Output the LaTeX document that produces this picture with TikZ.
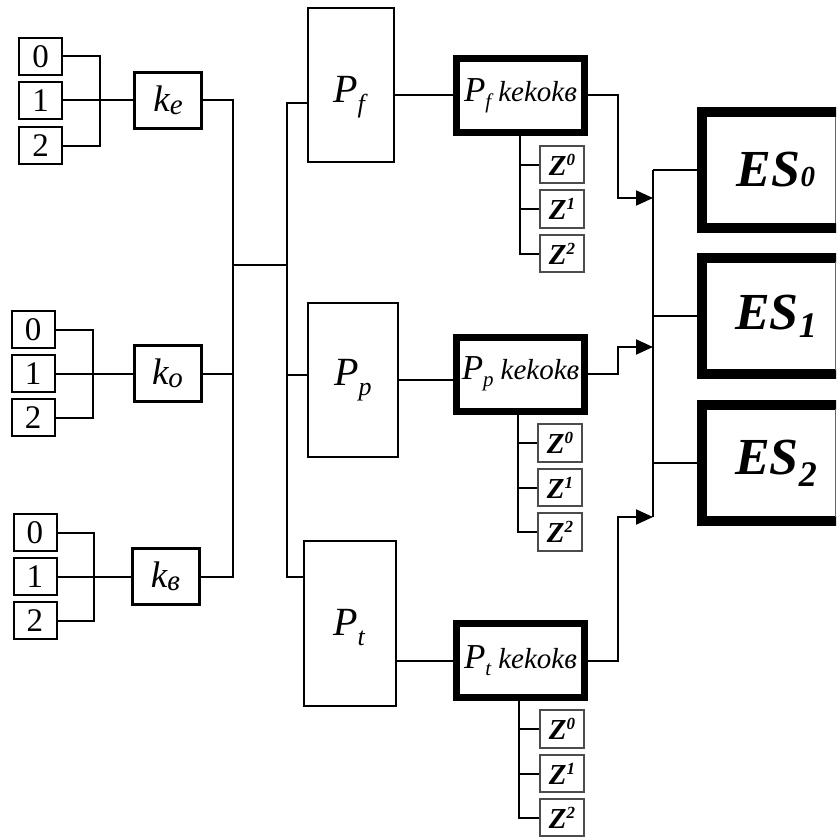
\documentclass[tikz,border=0pt]{standalone}
\usepackage{fontspec}
\setmainfont{Liberation Serif}
\usetikzlibrary{arrows.meta}
\newcommand\klab[1]{\fontsize{37}{37}\selectfont\itshape k\raisebox{-3pt}{\fontsize{29}{29}\selectfont #1}}
\newcommand\plab[1]{\fontsize{40}{40}\selectfont\itshape P\raisebox{-10pt}{\fontsize{26}{26}\selectfont #1}}
\newcommand\pklab[1]{\fontsize{35}{35}\selectfont\itshape P\raisebox{-7pt}{\fontsize{21}{21}\selectfont #1}\hspace{7pt}\fontsize{29}{29}\selectfont kekokв}
\newcommand\zlab[1]{\fontsize{29}{29}\selectfont\bfseries\itshape Z\raisebox{10pt}{\fontsize{17}{17}\selectfont #1}}
\begin{document}
\begin{tikzpicture}[x=1pt,y=-1pt,
  conn/.style={line width=2pt},
  arr/.style={line width=2pt,-{Triangle[length=17pt,width=15pt]}},
  digbox/.style={draw, line width=2pt, minimum width=43pt, minimum height=37pt, inner sep=0pt, font=\fontsize{33}{33}\selectfont},
  kbox/.style={draw, line width=3pt, minimum width=67pt, minimum height=56pt, inner sep=0pt},
  pbox/.style={draw, line width=2pt, inner sep=0pt},
  pkbox/.style={draw, line width=7pt, minimum width=128pt, minimum height=74pt, inner sep=0pt},
  zbox/.style={draw=black!70, line width=2pt, minimum width=44pt, minimum height=37.5pt, inner sep=0pt},
  esbox/.style={draw, line width=10pt, minimum width=148pt, minimum height=116pt, inner sep=0pt}
]
\path[use as bounding box] (0,0) rectangle (836,840);
\clip (0,0) rectangle (836,840);
\fill[white] (0,0) rectangle (836,840);

% digit groups
\node[digbox] (d10) at (40.5,56.5) {0};
\node[digbox] (d11) at (40.5,100.5) {1};
\node[digbox] (d12) at (40.5,145.5) {2};
\node[digbox] (d20) at (33,329.5) {0};
\node[digbox] (d21) at (33,373.5) {1};
\node[digbox] (d22) at (33,417.5) {2};
\node[digbox] (d30) at (35,532.5) {0};
\node[digbox] (d31) at (35,576.5) {1};
\node[digbox] (d32) at (35,620.5) {2};

% k boxes
\node[kbox] (ke) at (168,100.5) {\klab{e}};
\node[kbox] (ko) at (167.5,373.5) {\klab{o}};
\node[kbox] (kv) at (165.5,576.5) {\klab{в}};

\coordinate (b1) at (100,100.5);
\coordinate (b2) at (93,373.5);
\coordinate (b3) at (94,576.5);
\draw[conn] (d10.east) -| (b1) |- (d12.east);
\draw[conn] (d11.east) -- (ke.west);
\draw[conn] (d20.east) -| (b2) |- (d22.east);
\draw[conn] (d21.east) -- (ko.west);
\draw[conn] (d30.east) -| (b3) |- (d32.east);
\draw[conn] (d31.east) -- (kv.west);

% P boxes
\node[pbox, minimum width=86pt, minimum height=154pt] (pf) at (351,85) {};
\node at (349,97) {\plab{f}};
\node[pbox, minimum width=90pt, minimum height=154pt] (pp) at (353,380) {\plab{p}};
\node[pbox, minimum width=92pt, minimum height=165pt] (pt) at (350,623.5) {};
\node at (349,628) {\plab{t}};

% buses
\coordinate (lb) at (233,265);
\coordinate (rb) at (287,265);
\coordinate (pfin) at (307,103);
\coordinate (ppin) at (307,375);
\coordinate (ptin) at (303,577);
\draw[conn] (ke.east) -| (lb);
\draw[conn] (kv.east) -| (lb);
\draw[conn] (ko.east) -- (ko.east -| lb);
\draw[conn] (lb) -- (rb);
\draw[conn] (pfin) -| (rb) |- (ptin);
\draw[conn] (rb |- ppin) -- (ppin);

% PK boxes
\node[pkbox] (pfk) at (520.5,95.5) {\pklab{f}};
\node[pkbox] (ppk) at (520.5,374) {\pklab{p}};
\node[pkbox] (ptk) at (520.5,660.5) {\pklab{t}};
\draw[conn] (pf.east |- pfk.west) -- (pfk.west);
\draw[conn] (pp.east) -- (pp.east -| ppk.west);
\draw[conn] (pt.east |- ptk.west) -- (ptk.west);

% Z boxes
\node[zbox] (zf0) at (562,164.5) {\zlab{0}};
\node[zbox] (zf1) at (562,209) {\zlab{1}};
\node[zbox] (zf2) at (562,253.5) {\zlab{2}};
\node[zbox] (zp0) at (560,443) {\zlab{0}};
\node[zbox] (zp1) at (560,487.5) {\zlab{1}};
\node[zbox] (zp2) at (560,532) {\zlab{2}};
\node[zbox] (zt0) at (562,729) {\zlab{0}};
\node[zbox] (zt1) at (562,773.5) {\zlab{1}};
\node[zbox] (zt2) at (562,817.5) {\zlab{2}};
\coordinate (sf) at (520,136);
\coordinate (sp) at (518,415);
\coordinate (st) at (519,701);
\draw[conn] (sf) |- (zf2.west);
\draw[conn] (zf0.west) -- (zf0.west -| sf);
\draw[conn] (zf1.west) -- (zf1.west -| sf);
\draw[conn] (sp) |- (zp2.west);
\draw[conn] (zp0.west) -- (zp0.west -| sp);
\draw[conn] (zp1.west) -- (zp1.west -| sp);
\draw[conn] (st) |- (zt2.west);
\draw[conn] (zt0.west) -- (zt0.west -| st);
\draw[conn] (zt1.west) -- (zt1.west -| st);

% ES boxes
\node[esbox] (es0) at (776,170) {};
\node[esbox] (es1) at (776,316) {};
\node[esbox] (es2) at (776,463) {};
\node at (776,170) {\fontsize{52}{52}\selectfont\bfseries\itshape ES\fontsize{29}{29}\selectfont 0};
\node at (776,316) {\fontsize{52}{52}\selectfont\bfseries\itshape ES\raisebox{-8pt}{\fontsize{36}{36}\selectfont 1}};
\node at (776,463) {\fontsize{52}{52}\selectfont\bfseries\itshape ES\raisebox{-12pt}{\fontsize{36}{36}\selectfont 2}};
\draw[black!60, line width=1pt] (835,117) -- (835,223);
\draw[black!60, line width=1pt] (835,262) -- (835,370);
\draw[black!60, line width=1pt] (835,409) -- (835,517);

% outputs
\coordinate (j0) at (618,198);
\coordinate (j1) at (618,347);
\coordinate (j2) at (618,517);
\coordinate (a0) at (653,198);
\coordinate (a1) at (653,347);
\coordinate (a2) at (653,517);
\draw[arr] (pfk.east) -| (j0) -- (a0);
\draw[arr] (ppk.east) -| (j1) -- (a1);
\draw[arr] (ptk.east) -| (j2) -- (a2);
\draw[conn] (es0.west -| a0) -- (a2);
\draw[conn] (es0.west -| a0) -- (es0.west);
\draw[conn] (es1.west -| a0) -- (es1.west);
\draw[conn] (es2.west -| a0) -- (es2.west);
\end{tikzpicture}
\end{document}
